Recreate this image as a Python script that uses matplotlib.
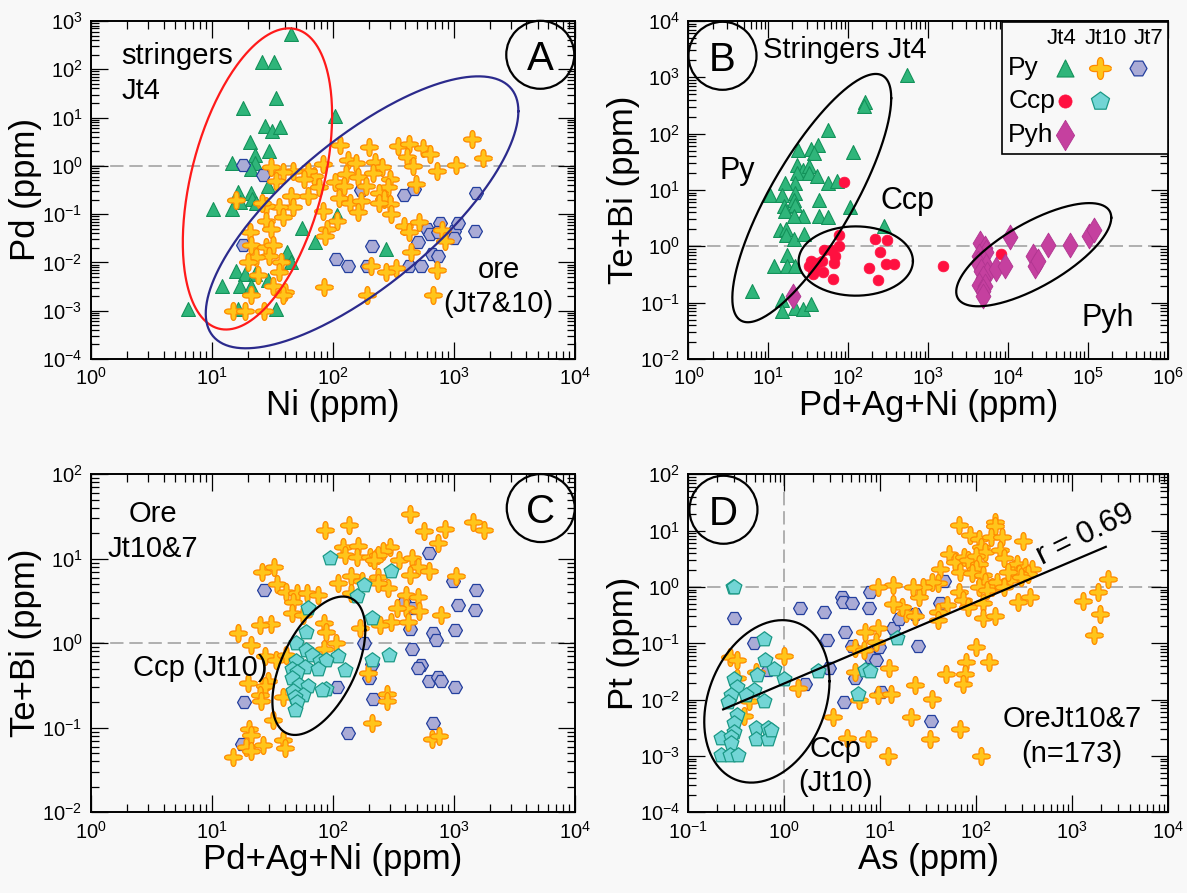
import numpy as np
import matplotlib
matplotlib.use("Agg")
from matplotlib import pyplot as plt
from matplotlib import font_manager
from matplotlib.patches import Ellipse, Rectangle
from matplotlib.ticker import LogLocator, LogFormatterSciNotation, NullFormatter

# Panel A : Pd vs Ni
a_py4_x = [45, 26, 33, 18, 34, 104, 27.7, 31.5, 36.7, 20.7, 30, 22.6, 14.6, 23, 21, 29, 16.5, 21.3, 21.7, 17.2,
           10.3, 14.6, 23.4, 108, 56, 72, 274, 42, 45, 15.9, 18.8, 22.6, 29, 12.2, 17.1, 21, 6.4, 33.7, 16.6]
a_py4_y = [540, 139, 139, 15.5, 25, 10.7, 6.6, 5.3, 6.3, 3.1, 2.07, 1.7, 1.13, 1.13, 0.84, 0.39, 0.29, 0.28, 0.21, 0.176,
           0.128, 0.128, 0.17, 0.096, 0.051, 0.026, 0.019, 0.0162, 0.0101, 0.0065, 0.0058, 0.0058, 0.0044, 0.0033, 0.0033,
           0.0032, 0.00109, 0.00109, 0.0011]
a_py7_x = [18.1, 26.5, 173, 392, 473, 1540, 771, 598, 634, 743, 1010, 1094, 1495, 1016, 509, 210, 18.1, 666, 743, 106,
           134, 193, 430, 540]
a_py7_y = [1.04, 0.66, 0.31, 0.25, 0.33, 0.28, 0.066, 0.049, 0.039, 0.042, 0.044, 0.066, 0.045, 0.0316, 0.026, 0.0224,
           0.023, 0.015, 0.0137, 0.0115, 0.0086, 0.0083, 0.0083, 0.0083]
a_py10_x = [1430, 1755, 116, 200, 346, 430, 556, 643, 415, 463, 1054, 732, 134, 155, 223, 258, 215, 299, 288, 240,
            268, 299, 240, 306, 129, 161, 104, 125, 187, 84, 70, 62.5, 46.7, 39, 31, 34, 58, 77, 62.5, 45,
            46.7, 36, 28, 26, 16, 112, 139, 173, 161, 84, 39, 28, 31, 108, 90, 87, 20.6, 21, 28, 32,
            30, 23.4, 20, 37.6, 36, 24, 32, 40, 21, 39, 15.1, 18.8, 27, 85, 193, 208, 333, 278, 446, 516,
            386, 430, 800, 847, 732, 681, 487]
a_py10_y = [3.6, 1.44, 2.7, 2.4, 2.6, 2.8, 2.3, 1.76, 1.5, 1.0, 1.02, 0.78, 1.35, 1.13, 1.23, 0.95, 0.70, 0.54, 0.36, 0.28,
            0.21, 0.16, 0.17, 0.10, 0.68, 0.58, 0.46, 0.39, 0.39, 1.09, 0.63, 0.79, 0.79, 0.76, 0.95, 0.49, 0.53, 0.36, 0.24, 0.24,
            0.139, 0.139, 0.15, 0.17, 0.2, 0.22, 0.17, 0.19, 0.109, 0.118, 0.086, 0.073, 0.049, 0.073, 0.049, 0.035, 0.042, 0.023, 0.0206, 0.023,
            0.0138, 0.0128, 0.0101, 0.0101, 0.0063, 0.0054, 0.0033, 0.0024, 0.0021, 0.0021, 0.001, 0.001, 0.001, 0.0031, 0.0021, 0.0083, 0.0075, 0.0063, 0.0162, 0.07,
            0.057, 0.042, 0.046, 0.028, 0.0071, 0.0021, 0.42]

# Panel B : Te+Bi vs Pd+Ag+Ni (stringers Jt4)
b_py4_x = [543, 160, 155, 56, 23.8, 42, 33.8, 37.7, 114, 22.6, 27, 32, 22.6, 32, 41, 21.8, 16.3, 56, 72, 10.5,
           14.9, 21.8, 20.7, 15.7, 21.8, 43, 106, 16.3, 27, 20.7, 43, 55, 14.1, 16.6, 16.6, 20.7, 28, 277, 17.2, 11.7,
           17, 21.8, 6.2, 14.9, 14.6, 21.8, 27, 33.8]
b_py4_y = [1100, 370, 310, 117, 51.6, 63, 54, 45, 48, 28, 22.8, 27, 20, 20, 17.4, 13.2, 13.2, 13.2, 14.4, 8.2,
           8.2, 8.8, 6.7, 5.1, 5.4, 6.7, 5.0, 4.2, 3.4, 3.4, 3.5, 3.3, 1.97, 2.0, 1.6, 1.35, 1.65, 2.25, 0.71, 0.44,
           0.45, 0.44, 0.163, 0.113, 0.070, 0.080, 0.076, 0.095]
b_ccp4_x = [88, 76.5, 215, 305, 76.5, 61.5, 49.5, 248, 68.6, 47, 33.8, 40, 67, 32, 183, 299, 372, 1530, 8100, 37.7,
            48, 35.7, 65, 232]
b_ccp4_y = [14, 1.56, 1.35, 1.32, 1.0, 0.87, 0.86, 0.8, 0.66, 0.56, 0.54, 0.5, 0.5, 0.44, 0.42, 0.49, 0.48, 0.45, 0.73, 0.36,
            0.35, 0.32, 0.26, 0.25]
b_pyh4_x = [20.2, 4450, 5080, 5250, 4310, 4810, 4220, 5250, 4550, 5360, 4810, 4310, 5080, 4810, 4810, 7040, 9040, 10540,
            20280, 21600, 23300, 31600, 58900, 104000, 120000]
b_pyh4_y = [0.133, 1.14, 0.93, 0.78, 0.68, 0.54, 0.5, 0.44, 0.36, 0.32, 0.27, 0.21, 0.195, 0.158, 0.13, 0.40, 0.44, 1.44,
            0.68, 0.44, 0.54, 1.04, 1.07, 1.54, 1.97]

# Panel C : Te+Bi vs Pd+Ag+Ni (ore Jt10 & Jt7)
c_py10_x = [437, 1450, 1770, 136, 87, 564, 841, 738, 122, 163, 299, 262, 127, 158, 203, 235, 219, 351, 453, 505,
            628, 437, 1047, 26, 32.5, 35, 41, 51, 61, 76, 47, 46, 57, 110, 141, 176, 235, 286, 235, 141,
            405, 505, 405, 339, 516, 782, 303, 244, 421, 169, 85, 88, 31, 25, 16.5, 21, 106, 85, 27.5, 34,
            41, 196, 20, 29, 27.5, 25, 25.5, 39, 282, 279, 32, 20.5, 21.3, 19.4, 21.3, 26.5, 39, 40, 15.1, 211,
            667, 754]
c_py10_y = [34, 27.5, 22, 25, 22, 21.5, 22.3, 15.2, 13.7, 14.2, 13.9, 12.5, 11.1, 10.5, 10.6, 11.1, 9.7, 9.7, 10.1, 8.1,
            7.2, 6.4, 6.2, 6.9, 8.1, 5.0, 4.0, 3.9, 3.9, 3.7, 3.1, 2.27, 2.17, 5.1, 6.3, 5.5, 6.1, 4.5, 5.1, 3.9,
            3.7, 3.5, 2.6, 2.6, 2.4, 2.17, 1.8, 1.65, 1.8, 1.5, 1.73, 1.37, 1.7, 1.65, 1.31, 0.95, 1.0, 0.85, 0.70, 0.63,
            0.73, 0.45, 0.34, 0.36, 0.31, 0.245, 0.21, 0.23, 0.25, 0.21, 0.124, 0.096, 0.083, 0.06, 0.053, 0.063, 0.072, 0.058, 0.045, 0.113,
            0.073, 0.079]
c_ccp10_x = [95, 303, 182, 158, 211, 63, 60, 50, 60, 110, 68, 79, 88, 50, 59, 46, 76, 127, 211, 51,
             46, 53, 63, 88, 82, 47, 57, 49, 51, 49, 293]
c_ccp10_y = [10.1, 7.2, 4.9, 3.6, 2.0, 2.6, 1.37, 1.0, 0.83, 0.71, 0.73, 0.62, 0.64, 0.62, 0.53, 0.5, 0.49, 0.48, 0.64, 0.46,
             0.385, 0.32, 0.31, 0.29, 0.28, 0.27, 0.245, 0.23, 0.2, 0.163, 0.73]
c_py7_x = [27, 629, 995, 1540, 1086, 1510, 392, 463, 437, 1030, 677, 716, 180, 453, 535, 505, 211, 200, 620, 743,
           782, 1030, 108, 216, 18.4, 677, 134, 17.7]
c_py7_y = [4.3, 11.6, 5.5, 4.3, 2.8, 2.5, 3.1, 2.6, 1.47, 1.43, 1.33, 1.1, 1.0, 0.85, 0.55, 0.51, 0.57, 0.385, 0.36, 0.4,
           0.36, 0.3, 0.3, 0.22, 0.2, 0.113, 0.086, 0.064]

# Panel D : Pt vs As
d_py10_x = [65.8, 158, 158, 86, 108, 142, 186, 307, 113, 124, 178, 195, 52.5, 60, 42, 75, 83, 99, 108, 99,
            68, 90, 119, 124, 146, 106, 130, 163, 223, 245, 268, 321, 385, 351, 280, 213, 293, 2350, 1875, 1305,
            1960, 1680, 367, 275, 119, 119, 156, 66, 72, 83, 50, 40, 40, 40, 35, 28, 25.5, 22, 18.5, 16.9,
            13.5, 23, 13.5, 9.4, 9.4, 7.0, 9.0, 5.5, 6.7, 5.5, 12.3, 9.4, 12.9, 6.0, 23, 35, 20.8, 3.2, 4.5, 7.5,
            32.8, 68, 12, 113, 99, 136, 79, 77, 72, 48, 0.98, 1.4, 0.27, 0.32, 0.38, 0.43, 0.51, 0.32, 195]
d_py10_y = [12.5, 14.3, 12.0, 8.3, 7.0, 7.6, 7.6, 6.5, 5.2, 4.2, 4.5, 3.3, 3.9, 2.8, 2.1, 3.4, 3.0, 3.6, 2.6, 2.1,
            1.85, 1.8, 1.62, 1.23, 1.0, 1.0, 0.88, 1.23, 1.32, 2.1, 2.6, 2.3, 2.1, 1.7, 1.7, 1.85, 1.5, 1.41, 0.82, 0.56,
            0.33, 0.14, 0.65, 0.54, 0.51, 0.28, 0.3, 0.82, 0.58, 0.44, 0.47, 0.36, 0.26, 1.16, 1.23, 1.0, 0.67, 1.0, 0.34, 0.44,
            0.5, 0.3, 1.09, 1.0, 0.184, 0.16, 0.106, 0.081, 0.077, 0.031, 0.037, 0.0121, 0.0128, 0.0098, 0.018, 0.0101, 0.005, 0.005, 0.0021, 0.002,
            0.002, 0.003, 0.001, 0.001, 0.087, 0.047, 0.047, 0.029, 0.019, 0.028, 0.059, 0.0158, 0.058, 0.05, 0.0052, 0.0093, 0.031, 0.024, 1.0]
d_py7_x = [0.30, 0.48, 0.68, 1.66, 1.45, 2.6, 2.8, 2.9, 4.0, 4.1, 5.1, 4.3, 5.1, 5.5, 4.2, 7.9, 7.7, 7.9, 9.1, 9.8,
           10.1, 13.5, 15.5, 23, 24.8, 34, 42, 46]
d_py7_y = [0.28, 0.1, 0.033, 0.019, 0.43, 0.36, 0.114, 0.037, 0.67, 0.54, 0.51, 0.16, 0.089, 0.024, 0.0092, 0.82, 0.42, 0.058, 0.051, 0.087,
           0.0138, 0.184, 0.27, 0.33, 0.089, 0.0041, 0.51, 1.3]
d_ccp10_x = [0.29, 0.30, 0.62, 0.63, 0.78, 0.52, 1.0, 2.25, 0.30, 0.32, 0.48, 0.28, 0.40, 0.62, 0.26, 0.32, 0.30, 0.30, 0.22, 0.28,
             0.28, 0.22, 0.27, 0.33, 0.51, 0.67, 0.51, 0.68, 0.73, 6.9, 7.9, 5.9, 14.8]
d_ccp10_y = [1.0, 1.0, 0.12, 0.05, 0.035, 0.027, 0.0235, 0.032, 0.023, 0.017, 0.015, 0.012, 0.012, 0.0094, 0.0089, 0.0053, 0.0039, 0.0027, 0.0021, 0.0022,
             0.0017, 0.00104, 0.00104, 0.00104, 0.0031, 0.0031, 0.002, 0.002, 0.0029, 0.034, 0.032, 0.0126, 0.122]
d_fit_x = [0.23, 2245]
d_fit_y = [0.0067, 5.15]

# Field outlines: centre (data), half extent in decades along x and y, correlation
a_outline_stringers = (23.9, 0.536, 0.617, 3.119, 0.422)
a_outline_ore = (175, 0.109, 1.292, 2.816, 0.744)
b_outline_py = (34.9, 7.18, 0.994, 2.204, 0.805)
b_outline_ccp = (124, 0.548, 0.715, 0.615, 0.0)
b_outline_pyh = (20900, 0.71, 0.970, 0.916, 0.717)
c_outline_ccp = (76.9, 0.542, 0.384, 0.819, 0.516)
d_outline_ccp = (0.657, 0.0093, 0.653, 1.442, 0.249)

# Fonts
names = {f.name for f in font_manager.fontManager.ttflist}
NARROW = "Liberation Sans Narrow" if "Liberation Sans Narrow" in names else "Liberation Sans"
REGULAR = "Liberation Sans"
plt.rcParams["font.family"] = [NARROW, "DejaVu Sans"]
plt.rcParams["mathtext.fontset"] = "custom"
plt.rcParams["mathtext.rm"] = NARROW
plt.rcParams["mathtext.it"] = NARROW
plt.rcParams["mathtext.bf"] = NARROW

# Marker styles
t = np.linspace(0, 2 * np.pi, 120, endpoint=False)
r = 0.42 + 0.58 * np.abs(np.cos(2 * t)) ** 2
CROSS = np.column_stack([r * np.cos(t), r * np.sin(t)])

PY4 = dict(marker="^", s=100, facecolor="#2fb57a", edgecolor="#13925a", linewidths=0.8)
PY10 = dict(marker=CROSS, s=165, facecolor="#ffc51a", edgecolor="#ff8a00", linewidths=0.9)
PY7 = dict(marker="H", s=100, facecolor="#aaabd6", edgecolor="#233f9e", linewidths=0.9)
CCP4 = dict(marker="o", s=60, facecolor="#ff1040", edgecolor="#ff1040", linewidths=0.5)
CCP10 = dict(marker="p", s=125, facecolor="#72d5d5", edgecolor="#1b9986", linewidths=0.9)
PYH4 = dict(marker="d", s=160, facecolor="#c5409f", edgecolor="#b03590", linewidths=0.6)

BG = "#f8f8f8"
TXT = 21


def setup_axes(ax, xlim, ylim, xlabel, ylabel):
    ax.set_xscale("log")
    ax.set_yscale("log")
    ax.set_xlim(xlim)
    ax.set_ylim(ylim)
    ax.set_facecolor(BG)
    for axis in (ax.xaxis, ax.yaxis):
        axis.set_major_locator(LogLocator(base=10, numticks=20))
        axis.set_minor_locator(LogLocator(base=10, subs=np.arange(2, 10), numticks=20))
        axis.set_major_formatter(LogFormatterSciNotation())
        axis.set_minor_formatter(NullFormatter())
    ax.tick_params(which="both", direction="in", top=True, right=True, width=0.9)
    ax.tick_params(which="major", length=12, labelsize=14.5, pad=6)
    ax.tick_params(which="minor", length=6)
    for sp in ax.spines.values():
        sp.set_linewidth(1.4)
    ax.set_xlabel(xlabel, fontsize=25, family=REGULAR, labelpad=0)
    ax.set_ylabel(ylabel, fontsize=25, family=REGULAR, labelpad=0)


def draw_outline(ax, outline, color):
    cx, cy, hx, vy, rho = outline
    tt = np.linspace(0, 2 * np.pi, 300)
    lx = np.log10(cx) + hx * np.cos(tt)
    ly = np.log10(cy) + vy * (rho * np.cos(tt) + np.sqrt(1 - rho ** 2) * np.sin(tt))
    ax.plot(10 ** lx, 10 ** ly, color=color, lw=1.6, zorder=4)


def panel_letter(ax, letter, u, v):
    # circle of ~68 px drawn in axes fraction
    w = 68 / ax.bbox.width
    h = 68 / ax.bbox.height
    ax.add_patch(Ellipse((u, v), w, h, transform=ax.transAxes, facecolor="none",
                         edgecolor="black", lw=1.6, zorder=6, clip_on=False))
    ax.text(u, v, letter, transform=ax.transAxes, ha="center", va="center_baseline",
            fontsize=29, family=REGULAR, zorder=7)


def ref_line(ax, y=None, x=None):
    kw = dict(color="#a3a3a3", lw=1.2, linestyle=(0, (8, 3.5)), zorder=1)
    if y is not None:
        ax.axhline(y, **kw)
    if x is not None:
        ax.axvline(x, **kw)


fig = plt.figure(figsize=(11.87, 8.93), dpi=100, facecolor=BG)
ax_a = fig.add_axes([0.0764, 0.598, 0.4077, 0.3785])
ax_b = fig.add_axes([0.580, 0.598, 0.4040, 0.3785])
ax_c = fig.add_axes([0.0764, 0.0904, 0.4077, 0.3785])
ax_d = fig.add_axes([0.580, 0.0904, 0.4040, 0.3785])

# ---- A
setup_axes(ax_a, (1, 1e4), (1e-4, 1e3), "Ni (ppm)", "Pd (ppm)")
ref_line(ax_a, y=1)
ax_a.scatter(a_py4_x, a_py4_y, zorder=2, **PY4)
ax_a.scatter(a_py7_x, a_py7_y, zorder=2, **PY7)
ax_a.scatter(a_py10_x, a_py10_y, zorder=3, **PY10)
draw_outline(ax_a, a_outline_stringers, "#ff1a1a")
draw_outline(ax_a, a_outline_ore, "#2b2a8c")
ax_a.text(0.063, 0.937, "stringers\nJt4", transform=ax_a.transAxes, ha="left", va="top",
          fontsize=TXT, linespacing=1.3)
ax_a.text(0.843, 0.306, "ore\n(Jt7&10)", transform=ax_a.transAxes, ha="center", va="top",
          fontsize=TXT, linespacing=1.3)
panel_letter(ax_a, "A", 0.929, 0.900)

# ---- B
setup_axes(ax_b, (1, 1e6), (1e-2, 1e4), "Pd+Ag+Ni (ppm)", "Te+Bi (ppm)")
ref_line(ax_b, y=1)
ax_b.scatter(b_py4_x, b_py4_y, zorder=2, **PY4)
ax_b.scatter(b_ccp4_x, b_ccp4_y, zorder=3, **CCP4)
ax_b.scatter(b_pyh4_x, b_pyh4_y, zorder=3, **PYH4)
draw_outline(ax_b, b_outline_py, "black")
draw_outline(ax_b, b_outline_ccp, "black")
draw_outline(ax_b, b_outline_pyh, "black")
ax_b.text(0.156, 0.914, "Stringers Jt4", transform=ax_b.transAxes, ha="left", va="center", fontsize=TXT)
ax_b.text(0.065, 0.555, "Py", transform=ax_b.transAxes, ha="left", va="center", fontsize=TXT + 1)
ax_b.text(0.400, 0.466, "Ccp", transform=ax_b.transAxes, ha="left", va="center", fontsize=TXT + 1)
ax_b.text(0.819, 0.121, "Pyh", transform=ax_b.transAxes, ha="left", va="center", fontsize=TXT + 1)
panel_letter(ax_b, "B", 0.071, 0.897)

# legend table in B
ax_b.add_patch(Rectangle((0.653, 0.607), 0.347, 0.391, transform=ax_b.transAxes, facecolor=BG,
                         edgecolor="black", lw=1.2, zorder=8))
for label, u in zip(["Jt4", "Jt10", "Jt7"], [0.779, 0.870, 0.959]):
    ax_b.text(u, 0.949, label, transform=ax_b.transAxes, ha="center", va="center", fontsize=16, zorder=9)
for label, v in zip(["Py", "Ccp", "Pyh"], [0.860, 0.762, 0.663]):
    ax_b.text(0.667, v, label, transform=ax_b.transAxes, ha="left", va="center", fontsize=19, zorder=9)
legend_keys = [(0.786, 0.860, PY4), (0.858, 0.860, PY10), (0.937, 0.860, PY7),
               (0.786, 0.762, CCP4), (0.858, 0.762, CCP10), (0.786, 0.663, PYH4)]
for u, v, style in legend_keys:
    big = dict(style)
    big["s"] = style["s"] * 1.5
    ax_b.scatter([u], [v], transform=ax_b.transAxes, zorder=9, clip_on=False, **big)

# ---- C
setup_axes(ax_c, (1, 1e4), (1e-2, 1e2), "Pd+Ag+Ni (ppm)", "Te+Bi (ppm)")
ref_line(ax_c, y=1)
ax_c.scatter(c_py7_x, c_py7_y, zorder=2, **PY7)
ax_c.scatter(c_py10_x, c_py10_y, zorder=3, **PY10)
ax_c.scatter(c_ccp10_x, c_ccp10_y, zorder=3, **CCP10)
draw_outline(ax_c, c_outline_ccp, "black")
ax_c.text(0.129, 0.924, "Ore\nJt10&7", transform=ax_c.transAxes, ha="center", va="top",
          fontsize=TXT, linespacing=1.3)
ax_c.text(0.087, 0.426, "Ccp (Jt10)", transform=ax_c.transAxes, ha="left", va="center", fontsize=TXT)
panel_letter(ax_c, "C", 0.930, 0.900)

# ---- D
setup_axes(ax_d, (0.1, 1e4), (1e-4, 1e2), "As (ppm)", "Pt (ppm)")
ref_line(ax_d, y=1, x=1)
ax_d.scatter(d_py7_x, d_py7_y, zorder=2, **PY7)
ax_d.scatter(d_py10_x, d_py10_y, zorder=3, **PY10)
ax_d.scatter(d_ccp10_x, d_ccp10_y, zorder=3, **CCP10)
ax_d.plot(d_fit_x, d_fit_y, color="black", lw=1.6, zorder=5)
draw_outline(ax_d, d_outline_ccp, "black")
ax_d.text(0.827, 0.820, "r = 0.69", transform=ax_d.transAxes, ha="center", va="center",
          fontsize=TXT + 1, rotation=26, rotation_mode="anchor")
ax_d.text(0.306, 0.229, "Ccp\n(Jt10)", transform=ax_d.transAxes, ha="center", va="top",
          fontsize=TXT, linespacing=1.3)
ax_d.text(0.800, 0.317, "OreJt10&7\n(n=173)", transform=ax_d.transAxes, ha="center", va="top",
          fontsize=TXT, linespacing=1.3)
panel_letter(ax_d, "D", 0.073, 0.895)

fig.savefig("out.png", dpi=100, facecolor=BG)
